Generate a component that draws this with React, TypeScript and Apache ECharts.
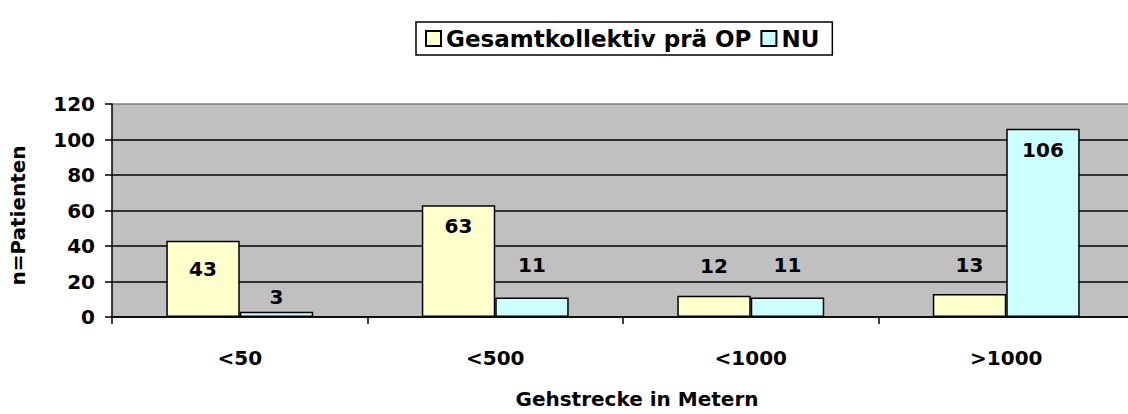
import React, { useEffect, useRef } from "react";
import * as echarts from "echarts";

const categories = ["<50", "<500", "<1000", ">1000"];
const seriesNames = ["Gesamtkollektiv prä OP", "NU"];
const valuesPre = [43, 63, 12, 13];
const valuesNU = [3, 11, 11, 106];
const yTicks = { min: 0, max: 120, interval: 20 };

// label placement per bar (style only)
const labelPre: Array<[string, number]> = [["insideTop", 18], ["insideTop", 11], ["top", 20], ["top", 19]];
const labelNU: Array<[string, number]> = [["top", 5], ["top", 22], ["top", 22], ["insideTop", 11]];

const FONT = "DejaVu Sans";

export default function App() {
  const ref = useRef<HTMLDivElement>(null);
  useEffect(() => {
    if (!ref.current) return;
    const chart = echarts.init(ref.current, null, { renderer: "svg" });
    const mk = (vals: number[], lp: Array<[string, number]>) =>
      vals.map((v, i) => ({
        value: v,
        label: { position: lp[i][0], distance: lp[i][1] },
      }));
    const labelBase = {
      show: true,
      color: "#000",
      fontFamily: FONT,
      fontWeight: "bold",
      fontSize: 20,
    };
    chart.setOption({
      animation: false,
      backgroundColor: "#fff",
      textStyle: { fontFamily: FONT },
      legend: {
        left: 416,
        top: 22,
        padding: [5, 13, 5, 9],
        itemGap: 9,
        itemWidth: 15,
        itemHeight: 15,
        icon: "rect",
        borderColor: "#000",
        borderWidth: 1.5,
        backgroundColor: "#fff",
        textStyle: { fontFamily: FONT, fontWeight: "bold", fontSize: 23, color: "#000" },
        data: seriesNames,
      },
      grid: {
        left: 111,
        top: 104,
        bottom: 96,
        right: 6,
        show: true,
        backgroundColor: "#c0c0c0",
        borderWidth: 0,
      },
      xAxis: {
        type: "category",
        data: categories,
        name: "Gehstrecke in Metern",
        nameLocation: "middle",
        nameGap: 72,
        nameTextStyle: {
          fontFamily: FONT,
          fontWeight: "bold",
          fontSize: 20,
          color: "#000",
          padding: [0, 0, 0, 28],
        },
        axisLine: { lineStyle: { color: "#000", width: 1.5 } },
        axisTick: { show: true, length: 7, lineStyle: { color: "#000", width: 1.5 } },
        axisLabel: { margin: 31, fontFamily: FONT, fontWeight: "bold", fontSize: 20, color: "#000" },
      },
      yAxis: {
        type: "value",
        min: yTicks.min,
        max: yTicks.max,
        interval: yTicks.interval,
        name: "n=Patienten",
        nameLocation: "middle",
        nameGap: 84,
        nameTextStyle: {
          fontFamily: FONT,
          fontWeight: "bold",
          fontSize: 20,
          color: "#000",
          padding: [0, 10, 0, 0],
        },
        axisLine: { show: true, lineStyle: { color: "#000", width: 1.5 } },
        axisTick: { show: true, length: 7, lineStyle: { color: "#000", width: 1.5 } },
        axisLabel: { margin: 17, fontFamily: FONT, fontWeight: "bold", fontSize: 20, color: "#000" },
        splitLine: {
          show: true,
          lineStyle: {
            color: ["#000", "#000", "#000", "#000", "#000", "#000", "#808080"],
            width: 1.5,
          },
        },
      },
      series: [
        {
          name: seriesNames[0],
          type: "bar",
          data: mk(valuesPre, labelPre),
          barGap: "0%",
          barCategoryGap: "42.5%",
          itemStyle: { color: "#ffffcc", borderColor: "#000", borderWidth: 1.5 },
          label: labelBase,
        },
        {
          name: seriesNames[1],
          type: "bar",
          data: mk(valuesNU, labelNU),
          barGap: "0%",
          barCategoryGap: "42.5%",
          itemStyle: { color: "#ccffff", borderColor: "#000", borderWidth: 1.5 },
          label: labelBase,
        },
      ],
    });
    return () => chart.dispose();
  }, []);
  return (
    <div
      ref={ref}
      style={{ position: "fixed", left: 0, top: 0, width: 1140, height: 414 }}
    />
  );
}
